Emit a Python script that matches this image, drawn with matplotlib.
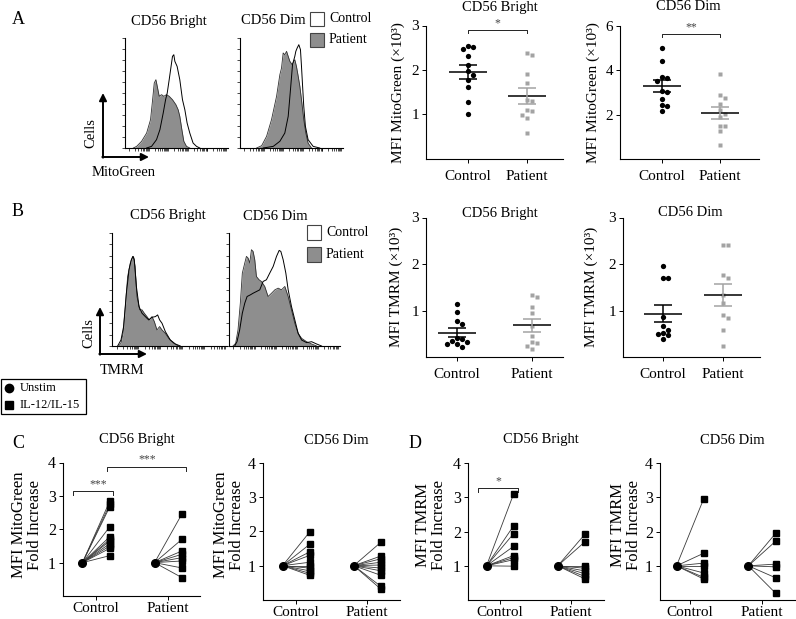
import numpy as np
import matplotlib.pyplot as plt
from matplotlib.patches import Rectangle

plt.rcParams['font.family'] = ['Liberation Serif', 'DejaVu Serif']

W, H = 796, 619
GREY = '#a3a3a3'
FILL = '#8e8e8e'

# ---- A: MitoGreen histograms (x position, height as % of axis) ----
a_bright_pat_x = [8.1, 11.3, 16.1, 21.0, 24.8, 26.8, 28.4, 30.0, 31.3, 33.2, 35.5, 37.7, 40.3, 42.9,
                  46.1, 49.4, 51.6, 53.2, 55.2, 57.1, 59.7, 62.9]
a_bright_pat_y = [0, 1.5, 6.1, 13.6, 25.8, 43.9, 59.1, 62.1, 56.1, 47.0, 48.5, 47.0, 48.5, 47.0,
                  43.9, 39.4, 34.8, 28.8, 16.7, 6.1, 1.5, 0]
a_bright_ctrl_x = [21.0, 25.8, 30.6, 33.9, 37.1, 39.4, 41.0, 42.9, 44.5, 46.1, 47.4, 48.4, 50.6, 53.2,
                   55.8, 58.1, 60.3, 62.9, 66.1, 69.4, 72.6]
a_bright_ctrl_y = [0, 1.5, 7.6, 16.7, 31.8, 43.9, 50.0, 62.1, 72.7, 83.3, 84.8, 78.8, 74.2, 62.1,
                   43.9, 34.8, 22.7, 13.6, 4.5, 1.5, 0]
a_dim_pat_x = [16.1, 21.0, 25.8, 30.6, 35.5, 38.7, 40.3, 41.9, 43.5, 45.2, 46.8, 48.4, 50.6, 53.2,
               54.8, 56.5, 58.1, 59.7, 61.9, 63.9, 66.1, 69.4]
a_dim_pat_y = [0, 2.1, 10.6, 25.8, 47.0, 66.7, 72.7, 86.4, 84.8, 87.9, 83.3, 78.8, 75.8, 80.3,
               74.2, 65.2, 56.1, 43.9, 25.8, 13.6, 4.5, 0]
a_dim_ctrl_x = [22.6, 32.3, 38.7, 43.5, 46.8, 49.0, 51.0, 53.2, 54.2, 55.5, 57.1, 58.7, 59.7, 60.6,
                61.9, 63.5, 66.1, 71.0, 77.4]
a_dim_ctrl_y = [0, 1.5, 6.1, 13.6, 28.8, 53.0, 75.8, 83.3, 87.9, 90.9, 93.9, 89.4, 74.2, 59.1,
                37.9, 19.7, 7.6, 1.5, 0]

# ---- B: TMRM histograms ----
b_bright_pat_x = [5.8, 7.8, 9.6, 11.6, 13.6, 15.9, 18.0, 18.8, 20.0, 21.7, 24.1, 26.1, 28.1, 30.4,
                  32.5, 34.8, 36.8, 39.1, 41.4, 43.5, 46.4, 49.3, 53.6, 57.9]
b_bright_pat_y = [0, 2.4, 11.2, 34.9, 61.5, 73.4, 79.3, 78.7, 70.4, 43.8, 32.0, 32.0, 29.0, 26.0,
                  23.1, 26.0, 21.6, 14.2, 17.2, 14.2, 11.2, 6.8, 2.4, 0]
b_bright_ctrl_x = [4.9, 7.8, 10.1, 12.5, 14.8, 16.8, 18.3, 19.4, 21.2, 23.5, 26.1, 29.0, 31.9, 34.8,
                   37.7, 39.7, 41.4, 43.5, 46.4, 50.7, 55.1, 59.4]
b_bright_ctrl_y = [0, 5.3, 17.2, 46.7, 67.5, 76.3, 79.3, 76.3, 52.7, 34.9, 29.0, 26.0, 23.1, 25.4,
                   26.0, 27.5, 23.1, 20.1, 12.7, 5.3, 1.8, 0]
b_dim_pat_x = [3.6, 6.0, 8.1, 10.2, 12.0, 14.2, 15.7, 17.2, 18.7, 20.2, 21.7, 23.2, 24.7, 27.1, 29.2,
               32.2, 35.2, 38.3, 41.3, 44.3, 47.3, 50.3, 53.3, 56.3, 59.3, 62.3, 65.4, 69.9, 74.4, 78.9]
b_dim_pat_y = [0, 2.4, 14.2, 37.9, 64.5, 73.4, 79.3, 77.8, 73.4, 85.2, 83.7, 76.3, 61.5, 58.6, 57.1,
               52.7, 43.8, 46.7, 49.7, 51.2, 49.7, 52.7, 43.8, 32.0, 20.1, 11.2, 6.8, 3.8, 1.8, 0]
b_dim_ctrl_x = [5.1, 7.2, 9.6, 12.0, 14.2, 16.3, 19.3, 21.7, 24.7, 27.7, 30.7, 33.7, 36.7, 39.8,
                42.8, 45.2, 46.7, 48.8, 51.2, 53.3, 56.3, 59.3, 62.3, 65.4, 69.9, 74.4, 78.9, 83.4]
b_dim_ctrl_y = [0, 3.8, 14.2, 29.0, 37.9, 43.8, 45.3, 46.7, 48.2, 49.7, 57.1, 58.6, 64.5, 70.4,
                79.3, 84.6, 83.7, 76.3, 64.5, 49.7, 34.9, 23.1, 11.2, 5.3, 3.0, 3.8, 1.8, 0]

# ---- MFI scatter (x10^3) ----
a_bright_ctrl = [2.53, 2.52, 2.47, 2.31, 2.12, 1.98, 1.89, 1.77, 1.62, 1.29, 1.00]
a_bright_pat = [2.38, 2.34, 1.91, 1.70, 1.33, 1.31, 1.09, 1.07, 0.98, 0.92, 0.59]
a_dim_ctrl = [4.99, 4.41, 3.69, 3.64, 3.54, 3.07, 3.01, 2.70, 2.44, 2.41, 2.18]
a_dim_pat = [3.85, 2.89, 2.73, 2.47, 2.21, 2.03, 1.88, 1.51, 1.47, 1.27, 0.61]
b_bright_ctrl = [1.14, 0.96, 0.77, 0.70, 0.40, 0.38, 0.34, 0.33, 0.28, 0.27, 0.21]
b_bright_pat = [1.33, 1.30, 1.07, 0.95, 0.67, 0.45, 0.32, 0.31, 0.23, 0.17]
b_dim_ctrl = [1.96, 1.70, 1.70, 0.86, 0.66, 0.59, 0.51, 0.50, 0.47, 0.39]
b_dim_pat = [2.41, 2.41, 1.77, 1.70, 1.33, 1.16, 0.90, 0.83, 0.57, 0.24]

# ---- fold increase (unstim = 1) ----
c_bright_ctrl = [2.85, 2.75, 2.68, 2.08, 1.78, 1.70, 1.65, 1.57, 1.50, 1.43, 1.21]
c_bright_pat = [2.46, 1.70, 1.35, 1.25, 1.15, 1.05, 0.84, 0.55]
c_dim_ctrl = [1.98, 1.62, 1.40, 1.30, 1.10, 1.00, 0.93, 0.85, 0.78, 0.72]
c_dim_pat = [1.68, 1.28, 1.20, 1.10, 1.02, 0.93, 0.85, 0.72, 0.40, 0.32]
d_bright_ctrl = [3.10, 2.17, 1.94, 1.57, 1.30, 1.24, 1.18, 0.99]
d_bright_pat = [1.92, 1.70, 1.00, 0.93, 0.85, 0.77, 0.69, 0.62]
d_dim_ctrl = [2.97, 1.37, 1.08, 1.00, 0.79, 0.66, 0.61]
d_dim_pat = [1.95, 1.72, 1.05, 0.97, 0.65, 0.20]

groups = ['Control', 'Patient']

fig = plt.figure(figsize=(W / 100, H / 100), dpi=100)

# overlay in pixel coordinates for labels, arrows, legends
ov = fig.add_axes([0, 0, 1, 1])
ov.set_xlim(0, W)
ov.set_ylim(H, 0)
ov.axis('off')


def add_ax(x0, y0, x1, y1):
    ax = fig.add_axes([x0 / W, 1 - y1 / H, (x1 - x0) / W, (y1 - y0) / H])
    ax.set_facecolor('none')
    for s in ['top', 'right']:
        ax.spines[s].set_visible(False)
    return ax


def hist_ax(box, ctrl_x, ctrl_y, pat_x, pat_y):
    ax = add_ax(*box)
    ax.fill_between(pat_x, pat_y, color=FILL, lw=0)
    ax.plot(pat_x, pat_y, color='#303030', lw=0.6)
    ax.plot(ctrl_x, ctrl_y, color='black', lw=0.7)
    ax.set_xlim(0, 100)
    ax.set_ylim(0, 100)
    ax.set_yticks(np.linspace(0, 100, 11))
    xt = []
    for d in range(5):
        base = 4 + d * 19
        xt += [base + 19 * np.log10(k) for k in range(1, 10)]
    ax.set_xticks([t for t in xt if t < 100])
    ax.tick_params(length=2, width=0.5, labelbottom=False, labelleft=False)
    for s in ['left', 'bottom']:
        ax.spines[s].set_linewidth(0.8)
    return ax


def swarm(ax, vals, xc, r=5.2):
    h_px = ax.get_position().height * H
    w_px = ax.get_position().width * W
    ylo, yhi = ax.get_ylim()
    xlo, xhi = ax.get_xlim()
    yscale = h_px / (yhi - ylo)
    xunit = (xhi - xlo) / w_px
    placed = []
    xs = []
    for v in vals:
        y = v * yscale
        for k in [0, 1, -1, 2, -2, 3, -3]:
            x = k * r
            if all((x - px) ** 2 + (y - py) ** 2 >= r * r for px, py in placed):
                break
        placed.append((x, y))
        xs.append(xc + x * xunit)
    return xs


def dot_ax(box, xlim, ylim, yticks, ctrl, pat, ylabel, title, ylab_x, title_xy):
    ax = add_ax(*box)
    ax.set_xlim(*xlim)
    ax.set_ylim(*ylim)
    xunit = (xlim[1] - xlim[0]) / (ax.get_position().width * W)
    for i, (vals, col, mk, ms) in enumerate([(ctrl, 'black', 'o', 3.8), (pat, GREY, 's', 3.5)]):
        xc = i + 1
        xs = swarm(ax, vals, xc)
        ax.plot(xs, vals, ls='none', marker=mk, ms=ms, color=col, mec='none', zorder=3)
        m = np.mean(vals)
        se = np.std(vals, ddof=1) / np.sqrt(len(vals))
        ax.hlines(m, xc - 19 * xunit, xc + 19 * xunit, color='black', lw=1.1, zorder=4)
        ax.vlines(xc, m - se, m + se, color=col, lw=1.1, zorder=4)
        ax.hlines([m - se, m + se], xc - 9 * xunit, xc + 9 * xunit, color=col, lw=1.1, zorder=4)
    ax.set_xticks([1, 2])
    ax.set_xticklabels(groups, fontsize=11)
    ax.set_yticks(yticks)
    ax.set_yticklabels([str(t) for t in yticks], fontsize=11)
    ax.tick_params(length=3, width=0.7, pad=2)
    ax.tick_params(axis='x', pad=5)
    ov.text(title_xy[0], title_xy[1], title, ha='center', va='center', fontsize=10.5)
    ov.text(ylab_x, (box[1] + box[3]) / 2, ylabel, rotation=90, ha='center', va='center', fontsize=11)
    return ax


def bracket(ax, x0, x1, y, tick, label, lx, ly):
    ax.plot([x0, x0, x1, x1], [y - tick, y, y, y - tick], color='#222222', lw=0.7, clip_on=False)
    ax.text(lx, ly, label, ha='center', va='center', fontsize=8.5, color='#444444', clip_on=False)


def fold_ax(box, xlim, ctrl, pat, title):
    ax = add_ax(*box)
    ax.set_xlim(*xlim)
    ax.set_ylim(0, 4)
    off = 0.19
    for i, vals in enumerate([ctrl, pat]):
        xc = i + 1
        for v in vals:
            ax.plot([xc - off, xc + off], [1, v], color='#3a3a3a', lw=0.6, zorder=2)
        ax.plot([xc + off] * len(vals), vals, ls='none', marker='s', ms=4.6, color='black', zorder=3)
        ax.plot([xc - off], [1], ls='none', marker='o', ms=5.5, color='black', zorder=3)
    ax.set_xticks([1, 2])
    ax.set_xticklabels(groups, fontsize=11)
    ax.set_yticks([1, 2, 3, 4])
    ax.set_yticklabels(['1', '2', '3', '4'], fontsize=11.5)
    ax.tick_params(length=3, width=0.7, pad=2)
    ax.tick_params(axis='x', pad=1.5)
    ov.text((box[0] + box[2]) / 2 + 5, 440, title, ha='center', va='center', fontsize=10.5)
    return ax


# ---------------- panel A ----------------
hist_ax((125, 38, 228, 148), a_bright_ctrl_x, a_bright_ctrl_y, a_bright_pat_x, a_bright_pat_y)
hist_ax((240, 38, 343, 148), a_dim_ctrl_x, a_dim_ctrl_y, a_dim_pat_x, a_dim_pat_y)
ov.text(169, 21, 'CD56 Bright', ha='center', va='center', fontsize=10.5)
ov.text(273, 21, 'CD56 Dim', ha='center', va='center', fontsize=10.5)

ax = dot_ax((426, 25.5, 563, 159), (0.288, 2.61), (0, 3), [1, 2, 3], a_bright_ctrl, a_bright_pat,
            'MFI MitoGreen (×10³)', 'CD56 Bright', 398, (500, 7))
bracket(ax, 1, 2, 2.91, 0.07, '*', 1.5, 3.04)
ax = dot_ax((620, 26, 759, 159), (0.276, 2.67), (0, 6), [2, 4, 6], a_dim_ctrl, a_dim_pat,
            'MFI MitoGreen (×10³)', 'CD56 Dim', 593, (688, 7))
bracket(ax, 1, 2, 5.63, 0.14, '**', 1.5, 5.92)

# ---------------- panel B ----------------
hist_ax((112, 233, 227, 346), b_bright_ctrl_x, b_bright_ctrl_y, b_bright_pat_x, b_bright_pat_y)
hist_ax((229, 233, 340, 346), b_dim_ctrl_x, b_dim_ctrl_y, b_dim_pat_x, b_dim_pat_y)
ov.text(168, 216, 'CD56 Bright', ha='center', va='center', fontsize=10.5)
ov.text(275, 216, 'CD56 Dim', ha='center', va='center', fontsize=10.5)

dot_ax((426, 217.5, 563, 357), (0.587, 2.41), (0, 3), [1, 2, 3], b_bright_ctrl, b_bright_pat,
       'MFI TMRM (×10³)', 'CD56 Bright', 396, (500, 213))
dot_ax((623, 217.5, 760, 357), (0.333, 2.62), (0, 3), [1, 2, 3], b_dim_ctrl, b_dim_pat,
       'MFI TMRM (×10³)', 'CD56 Dim', 591, (690, 213))

# ---------------- panel C / D ----------------
ax = fold_ax((63, 462.5, 200, 596), (0.54, 2.44), c_bright_ctrl, c_bright_pat, 'CD56 Bright')
bracket(ax, 0.68, 1.24, 3.14, 0.12, '***', 1.03, 3.36)
bracket(ax, 1.15, 2.25, 3.86, 0.12, '***', 1.71, 4.08)
fold_ax((263, 462.7, 400, 600), (0.535, 2.46), c_dim_ctrl, c_dim_pat, 'CD56 Dim')
ax = fold_ax((468, 463.3, 604, 600), (0.55, 2.46), d_bright_ctrl, d_bright_pat, 'CD56 Bright')
bracket(ax, 0.69, 1.25, 3.28, 0.12, '*', 0.97, 3.48)
fold_ax((660, 463.3, 795, 600), (0.58, 2.46), d_dim_ctrl, d_dim_pat, 'CD56 Dim')

for x, lab in [(27, 'MFI MitoGreen\nFold Increase'), (229, 'MFI MitoGreen\nFold Increase'),
               (431, 'MFI TMRM\nFold Increase'), (626, 'MFI TMRM\nFold Increase')]:
    ov.text(x, 525, lab, rotation=90, ha='center', va='center', fontsize=12, linespacing=1.0)

# ---------------- overlay decorations ----------------
for lx, ly, lab in [(18, 20, 'A'), (18, 212, 'B'), (18, 443, 'C'), (415, 443, 'D')]:
    ov.text(lx, ly, lab, ha='center', va='center', fontsize=13)

arrow = dict(arrowstyle='-|>', lw=1.4, color='black', mutation_scale=11, shrinkA=0, shrinkB=0)
for cx, cy, ty, tx in [(103, 157, 93, 149), (100, 354, 307, 147)]:
    ov.annotate('', xy=(cx, ty), xytext=(cx, cy + 0.7), arrowprops=arrow)
    ov.annotate('', xy=(tx, cy), xytext=(cx - 0.7, cy), arrowprops=arrow)
ov.text(91, 133, 'Cells', rotation=90, ha='center', va='center', fontsize=10.5)
ov.text(89, 333, 'Cells', rotation=90, ha='center', va='center', fontsize=10.5)
ov.text(124, 173, 'MitoGreen', ha='center', va='center', fontsize=10.5)
ov.text(122, 370, 'TMRM', ha='center', va='center', fontsize=10.5)

for bx, by, h in [(310, 12, 13.5), (307, 225, 14.5)]:
    ov.add_patch(Rectangle((bx, by), 14, h, fc='white', ec='#444444', lw=0.8))
    ov.add_patch(Rectangle((bx, by + h + 7.5), 14, h, fc=FILL, ec='#444444', lw=0.8))
    ov.text(bx + 19, by + h / 2, 'Control', ha='left', va='center', fontsize=10)
    ov.text(bx + 19, by + h * 1.5 + 7.5, 'Patient', ha='left', va='center', fontsize=10)

ov.add_patch(Rectangle((1, 379), 85, 35, fc='white', ec='black', lw=0.9))
ov.plot([9], [388], marker='o', ms=6, color='black')
ov.plot([9], [405], marker='s', ms=5.5, color='black')
ov.text(20, 388, 'Unstim', ha='left', va='center', fontsize=9)
ov.text(20, 405, 'IL-12/IL-15', ha='left', va='center', fontsize=9)

fig.savefig('out.png', dpi=100)
